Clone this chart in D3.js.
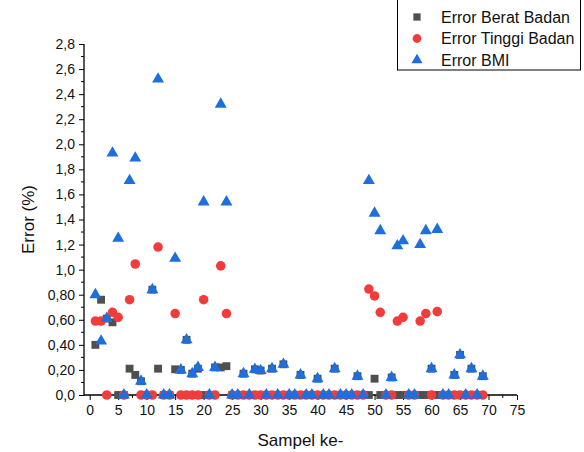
<!DOCTYPE html>
<html>
<head>
<meta charset="utf-8">
<script src="https://cdn.jsdelivr.net/npm/d3@7"></script>
<style>
  body { margin: 0; background: #fff; }
  svg { font-family: "Liberation Sans", Arial, sans-serif; }
</style>
</head>
<body>
<div id="chart"></div>
<script>
// sample numbers 1..69
const sampel = d3.range(1, 70);

const errBerat = [0.40,0.76,0.61,0.58,0,0,0.21,0.16,0.11,0,0.84,0.21,0,0,0.205,0.20,0.44,0.17,0.21,0,
  0,0.22,0.22,0.23,0,0,0.17,0,0.205,0.195,0,0.21,0,0.245,0,0,0.16,0,0,0.13,
  0,0,0.21,0,0,0,0.15,0,0,0.13,0,0,0.14,0,0,0,0,0,0,0.21,
  0,0,0,0.16,0.32,0,0.21,0,0.15];

const errTinggi = [0.59,0.59,0,0.66,0.62,0,0.76,1.045,0,0,0,1.18,0,0,0.65,0,0,0,0,0.76,
  0,0,1.03,0.65,0,0,0,0,0,0,0,0,0,0,0,0,0,0,0,0,
  0,0,0,0,0,0,0,0,0.845,0.79,0.66,0,0,0.59,0.62,0,0,0.59,0.65,0,
  0.665,0,0,0,0,0,0,0,0];

const errBMI = [0.80,0.43,0.61,1.93,1.25,0,1.71,1.89,0.11,0,0.84,2.52,0,0,1.09,0.20,0.44,0.17,0.22,1.54,
  0,0.22,2.32,1.54,0,0,0.17,0,0.205,0.195,0,0.21,0,0.245,0,0,0.16,0,0,0.13,
  0,0,0.21,0,0,0,0.15,0,1.71,1.45,1.31,0,0.14,1.19,1.23,0,0,1.20,1.31,0.21,
  1.32,0,0,0.16,0.32,0,0.21,0,0.15];

const yTicks = [0,0.2,0.4,0.6,0.8,1.0,1.2,1.4,1.6,1.8,2.0,2.2,2.4,2.6,2.8];
const yTickLabels = ['0,0','0,20','0,40','0,60','0,80','1,0','1,2','1,4','1,6','1,8','2,0','2,2','2,4','2,6','2,8'];
const xTicks = [0,5,10,15,20,25,30,35,40,45,50,55,60,65,70,75];

const seriesNames = ['Error Berat Badan', 'Error Tinggi Badan', 'Error BMI'];

let margin = { top: 44, right: 67, bottom: 57, left: 84 };
let width = 584 - margin.left - margin.right;
let height = 452 - margin.top - margin.bottom;

let svg = d3.select('#chart').append('svg')
    .attr('width', 584)
    .attr('height', 452);

let g = svg.append('g')
    .attr('transform', 'translate(' + margin.left + ',' + margin.top + ')');

let x = d3.scaleLinear().domain([-1, 75]).range([0, width]);
let y = d3.scaleLinear().domain([0, 2.8]).range([height, 0]);

// x axis
let xAxis = d3.axisBottom(x)
    .tickValues(xTicks)
    .tickSize(5)
    .tickPadding(5)
    .tickFormat(d3.format('d'));

let xg = g.append('g')
    .attr('transform', 'translate(0,' + height + ')')
    .call(xAxis);

// minor x ticks
xg.selectAll('.minor')
    .data(d3.range(2.5, 75, 5))
    .enter().append('line')
    .attr('x1', d => x(d)).attr('x2', d => x(d))
    .attr('y1', 0).attr('y2', 3)
    .attr('stroke', '#000');

// y axis
let yAxis = d3.axisLeft(y)
    .tickValues(yTicks)
    .tickSize(5)
    .tickPadding(4)
    .tickFormat((d, i) => yTickLabels[i]);

let yg = g.append('g').call(yAxis);

yg.selectAll('.minor')
    .data(d3.range(0.1, 2.8, 0.2))
    .enter().append('line')
    .attr('x1', 0).attr('x2', -3)
    .attr('y1', d => y(d)).attr('y2', d => y(d))
    .attr('stroke', '#000');

[xg, yg].forEach(function(a) {
    a.selectAll('.tick line').attr('stroke', '#000');
    a.selectAll('text').style('font-size', '14px').attr('fill', '#111');
    a.selectAll('.domain').attr('d', null);
});

// plain domain lines (no end caps)
g.append('line')
    .attr('x1', 0).attr('x2', width)
    .attr('y1', height).attr('y2', height)
    .attr('stroke', '#000').attr('stroke-width', 1.3);
g.append('line')
    .attr('x1', 0).attr('x2', 0)
    .attr('y1', 0).attr('y2', height)
    .attr('stroke', '#000').attr('stroke-width', 1.3);

// axis titles
svg.append('text')
    .attr('x', margin.left + x(37))
    .attr('y', 446)
    .attr('text-anchor', 'middle')
    .style('font-size', '17px')
    .attr('fill', '#111')
    .text('Sampel ke-');

svg.append('text')
    .attr('transform', 'translate(34,' + (margin.top + y(1.4)) + ') rotate(-90)')
    .attr('text-anchor', 'middle')
    .style('font-size', '17px')
    .attr('fill', '#111')
    .text('Error (%)');

const colors = ['#4f4f4f', '#f23c3c', '#1c6fdc'];
const symbols = [d3.symbolSquare, d3.symbolCircle, d3.symbolTriangle];
const sizes = [62, 72, 62];
const seriesData = [errBerat, errTinggi, errBMI];

seriesData.forEach(function(vals, s) {
    let sym = d3.symbol().type(symbols[s]).size(sizes[s]);
    g.append('g').selectAll('path')
        .data(vals)
        .enter().append('path')
        .attr('transform', (d, i) => 'translate(' + x(sampel[i]) + ',' + y(d) + ')')
        .attr('d', sym)
        .attr('fill', colors[s]);
});

// legend
let legend = svg.append('g');
legend.append('rect')
    .attr('x', 397.5).attr('y', -1)
    .attr('width', 183).attr('height', 71)
    .attr('fill', '#fff')
    .attr('stroke', '#000');

seriesNames.forEach(function(name, i) {
    let ly = 17 + i * 21.5;
    legend.append('path')
        .attr('transform', 'translate(417,' + ly + ')')
        .attr('d', d3.symbol().type(symbols[i]).size(sizes[i] * 0.85)())
        .attr('fill', colors[i]);
    legend.append('text')
        .attr('x', 441).attr('y', ly + 5.5)
        .style('font-size', '16px')
        .attr('fill', '#111')
        .text(name);
});
</script>
</body>
</html>
